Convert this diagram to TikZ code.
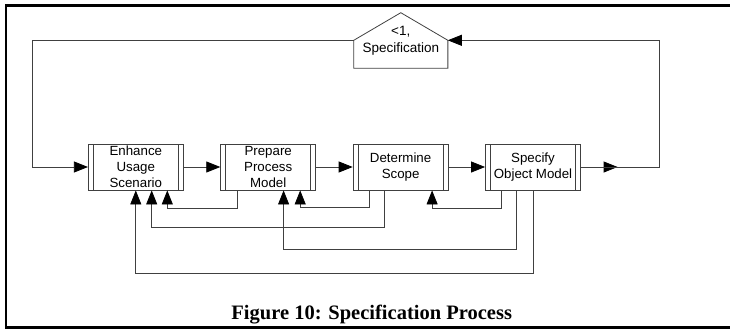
\documentclass[tikz,border=0pt]{standalone}
\usepackage{fontspec}
\newfontfamily\arialfont{Liberation Sans}
\newfontfamily\timesfont{Liberation Serif}
\usepackage{tikz}
\usetikzlibrary{positioning, arrows.meta}

\tikzset{
  line/.style={draw=black!75, line width=0.8pt},
  arr/.style={line, -{Triangle[length=14pt, width=11pt, color=black]}},
  process/.style={line, rectangle, minimum width=95pt, minimum height=46pt,
    inner sep=0pt, align=center,
    font={\arialfont\fontsize{13.3}{15.8}\selectfont},
    path picture={
      \draw[line] ([xshift=5pt]path picture bounding box.north west)
        -- ([xshift=5pt]path picture bounding box.south west);
      \draw[line] ([xshift=-5pt]path picture bounding box.north east)
        -- ([xshift=-5pt]path picture bounding box.south east);
    }},
  milestone/.style={minimum width=93.7pt, minimum height=55.4pt, inner sep=0pt,
    align=center, font={\arialfont\fontsize{13.5}{17}\selectfont}}
}

\begin{document}
\begin{tikzpicture}[x=1pt, y=-1pt, node distance=132.4pt]
    \clip (0,0) rectangle (730,329);
    \draw[line width=2.5pt] (6,5.3) rectangle (740,327.3);

    % the four steps
    \node[process] (usage) at (135.8,167) {Enhance\\Usage\\Scenario};
    \node[process, right of=usage] (proc) {Prepare\\Process\\Model};
    \node[process, right of=proc] (scope) {Determine\\Scope};
    \node[process, right of=scope] (obj) {Specify\\Object Model};

    % the milestone on top
    \node[milestone] (spec) at (400.8,40.3) {<1,\\Specification};
    \draw[line] (spec.south west) -- (spec.west) -- ([yshift=-0.3pt]spec.north)
      -- (spec.east) -- (spec.south east) -- cycle;

    % forward flow
    \draw[arr] (spec.west) -| ([xshift=-56pt]usage.west) -- (usage.west);
    \draw[arr] (usage) -- (proc);
    \draw[arr] (proc) -- (scope);
    \draw[arr] (scope) -- (obj);
    \draw[arr] (obj.east) -- ([xshift=36.7pt]obj.east);
    \draw[arr] (obj.east) -- ([xshift=78.3pt]obj.east) |- (spec.east);

    % feedback
    \draw[arr] ([xshift=-31.3pt]proc.south) -- ++(0,17.6) -| ([xshift=31.5pt]usage.south);
    \draw[arr] ([xshift=-15.8pt]scope.south) -- ++(0,37.3) -| ([xshift=15.9pt]usage.south);
    \draw[arr] (obj.south) -- ++(0,82.7) -| (usage.south);
    \draw[arr] ([xshift=-31.5pt]scope.south) -- ++(0,17.4) -| ([xshift=32pt]proc.south);
    \draw[arr] ([xshift=-16.2pt]obj.south) -- ++(0,59) -| ([xshift=15.4pt]proc.south);
    \draw[arr] ([xshift=-31.2pt]obj.south) -- ++(0,17.6) -| ([xshift=31.5pt]scope.south);

    \node[anchor=base, font={\timesfont\bfseries\fontsize{20.5}{24}\selectfont}] (caption)
      at (371.7,319.3) {Figure 10: Specification Process};
\end{tikzpicture}
\end{document}
